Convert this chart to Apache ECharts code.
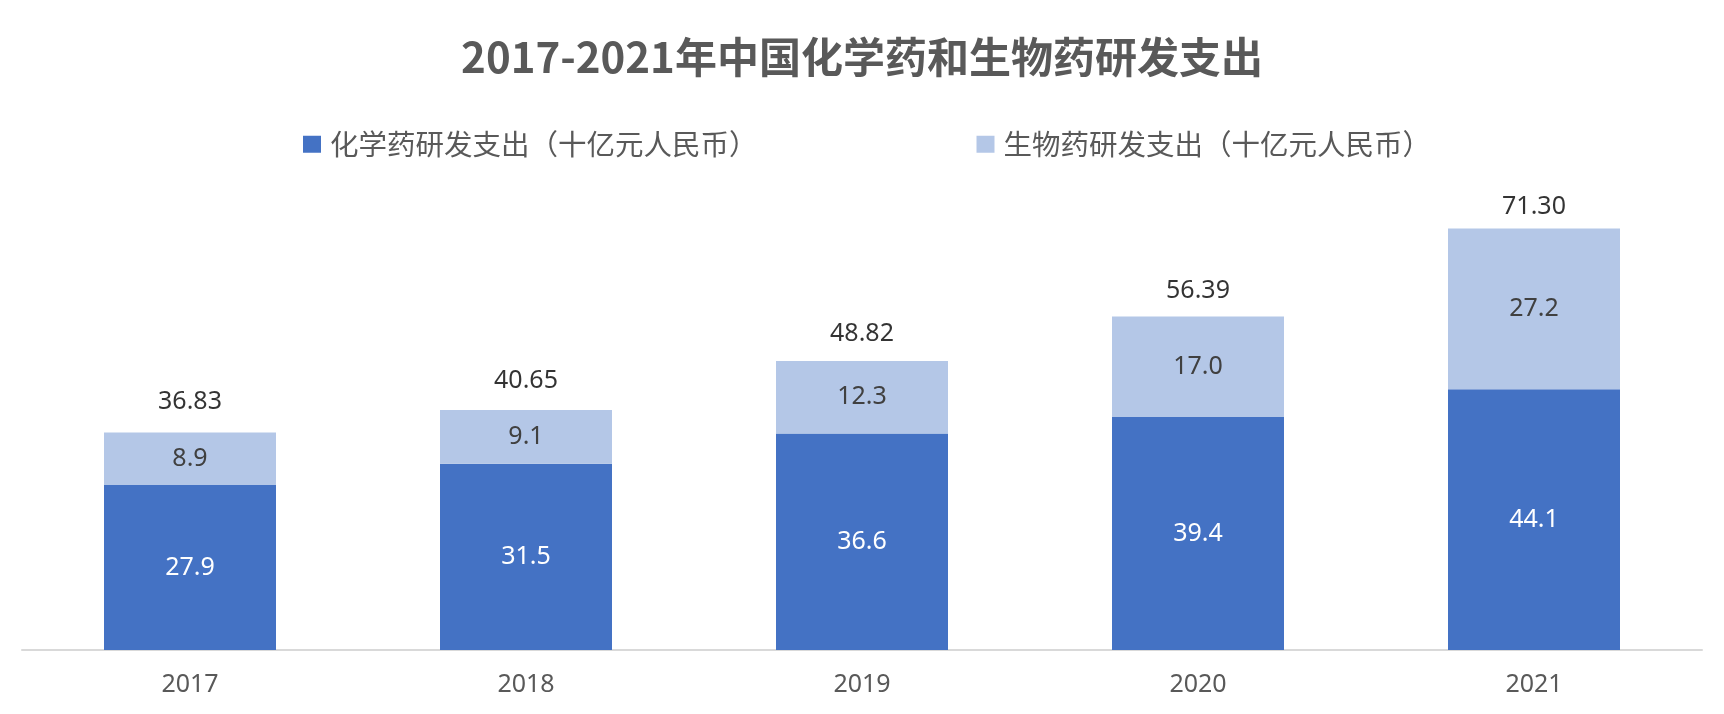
<!DOCTYPE html>
<html>
<head>
<meta charset="utf-8">
<script src="https://cdn.jsdelivr.net/npm/echarts@6/dist/echarts.min.js"></script>
<style>
html,body{margin:0;padding:0;background:#fff;}
#c{width:1724px;height:714px;}
</style>
</head>
<body>
<div id="c"></div>
<script>
const years = ['2017', '2018', '2019', '2020', '2021'];
const chemical = [27.9, 31.5, 36.6, 39.4, 44.1];
const biologic = [8.9, 9.1, 12.3, 17.0, 27.2];
const totals = [36.83, 40.65, 48.82, 56.39, 71.30];
const seriesNames = ['化学药研发支出（十亿元人民币）', '生物药研发支出（十亿元人民币）'];

const FONT = '"Noto Sans", "Noto Sans CJK SC", sans-serif';
const chart = echarts.init(document.getElementById('c'));
chart.setOption({
  backgroundColor: '#ffffff',
  animation: false,
  title: {
    text: '2017-2021年中国化学药和生物药研发支出',
    left: 'center',
    top: 31,
    textStyle: {
      fontFamily: '"Noto Sans CJK SC", sans-serif',
      fontSize: 42,
      fontWeight: 'bold',
      color: '#595959'
    }
  },
  legend: {
    data: seriesNames,
    left: 298,
    top: 125,
    itemWidth: 18,
    itemHeight: 17,
    itemGap: 219,
    icon: 'rect',
    textStyle: {
      fontFamily: '"Noto Sans CJK SC", sans-serif',
      fontSize: 28.5,
      color: '#595959',
      padding: [0, 0, 0, 4]
    }
  },
  grid: { left: 22, right: 22, top: 177, bottom: 64 },
  xAxis: {
    type: 'category',
    data: years,
    axisLine: { lineStyle: { color: '#D9D9D9', width: 2 } },
    axisTick: { show: false },
    axisLabel: { fontFamily: FONT, fontSize: 25, color: '#595959', margin: 22 }
  },
  yAxis: [
    { type: 'value', min: 0, max: 80, show: false },
    { type: 'value', min: -7, max: 76.6, show: false }
  ],
  series: [
    {
      name: seriesNames[0],
      type: 'bar',
      stack: 'rd',
      barWidth: 172,
      data: chemical,
      itemStyle: { color: '#4472C4' },
      label: {
        show: true, position: 'inside',
        fontFamily: FONT, fontSize: 25, color: '#ffffff',
        formatter: p => p.value.toFixed(1)
      }
    },
    {
      name: seriesNames[1],
      type: 'bar',
      stack: 'rd',
      barWidth: 172,
      data: biologic,
      itemStyle: { color: '#B4C7E7' },
      label: {
        show: true, position: 'inside',
        fontFamily: FONT, fontSize: 25, color: '#404040',
        formatter: p => p.value.toFixed(1)
      }
    },
    {
      name: 'total',
      type: 'scatter',
      yAxisIndex: 1,
      data: totals,
      symbolSize: 1,
      itemStyle: { color: 'rgba(0,0,0,0)' },
      silent: true,
      label: {
        show: true, position: 'inside',
        fontFamily: FONT, fontSize: 25, color: '#000000',
        formatter: p => p.value.toFixed(2)
      }
    }
  ]
});
</script>
</body>
</html>
